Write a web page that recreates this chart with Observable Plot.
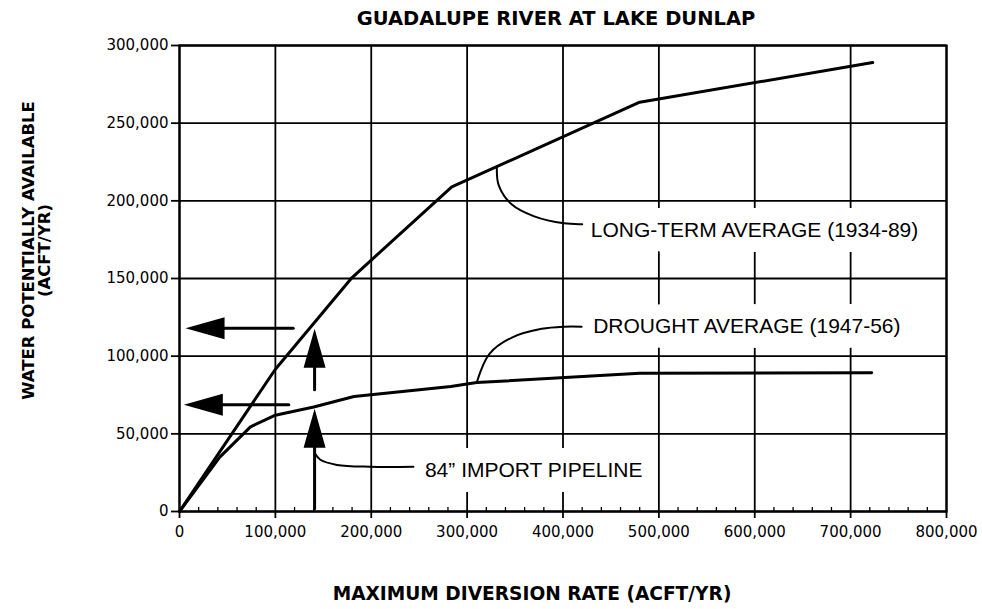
<!DOCTYPE html>
<html>
<head>
<meta charset="utf-8">
<script src="https://cdn.jsdelivr.net/npm/d3@7"></script>
<script src="https://cdn.jsdelivr.net/npm/@observablehq/plot@0.6"></script>
<style>
  html, body { margin: 0; padding: 0; background: #fff; }
</style>
</head>
<body>
<div id="chart"></div>
<script>
// ---- data ----
const longTermX = [0, 100000, 180000, 284000, 480000, 723000];
const longTermY = [0, 91600, 150600, 209000, 263500, 289000];

const droughtX = [0, 42000, 74000, 100000, 140000, 182000, 283000, 310000, 480000, 722000];
const droughtY = [0, 35000, 54500, 62000, 67300, 74000, 80500, 83000, 89000, 89300];

const xTicks = [0, 100000, 200000, 300000, 400000, 500000, 600000, 700000, 800000];
const yTicks = [0, 50000, 100000, 150000, 200000, 250000, 300000];
const minorXTicks = [20000, 40000, 60000, 80000, 120000, 140000, 160000, 180000, 220000, 240000, 260000, 280000,
  320000, 340000, 360000, 380000, 420000, 440000, 460000, 480000, 520000, 540000, 560000, 580000,
  620000, 640000, 660000, 680000, 720000, 740000, 760000, 780000];

// arrows: horizontal (pointing left) and vertical (pointing up)
const leftArrowY = [118000, 68700];
const leftArrowFrom = [118600, 114000];
const leftArrowTip = [6300, 4500];
const upArrowX = [140900, 140900];
const upArrowFrom = [78300, 1700];
const upArrowTip = [117600, 66100];

// annotation labels
const labelText = ["LONG-TERM AVERAGE (1934-89)", "DROUGHT AVERAGE (1947-56)", "84\u201D IMPORT PIPELINE"];
const labelX = [428900, 431500, 256000];
const labelY = [181000, 119000, 26500];

// leader lines
const leaderLongX = [331000, 333000, 346700, 370000, 401000, 420000];
const leaderLongY = [222000, 210000, 197600, 190000, 185500, 185000];
const leaderDroughtX = [310000, 323300, 346700, 377800, 401200, 419500];
const leaderDroughtY = [83000, 101500, 112000, 117600, 119000, 119000];
const leaderPipeX = [141000, 146900, 164200, 199000, 244000];
const leaderPipeY = [37600, 33300, 30000, 28800, 28800];

const titleText = "GUADALUPE RIVER AT LAKE DUNLAP";
const xLabelText = "MAXIMUM DIVERSION RATE (ACFT/YR)";
const yLabelText = "WATER POTENTIALLY AVAILABLE\n(ACFT/YR)";

// ---- tables built from the arrays ----
const longTerm = longTermX.map((x, i) => ({x, y: longTermY[i]}));
const drought = droughtX.map((x, i) => ({x, y: droughtY[i]}));
const leftArrows = leftArrowY.map((y, i) => ({y, from: leftArrowFrom[i], tip: leftArrowTip[i]}));
const upArrows = upArrowX.map((x, i) => ({x, from: upArrowFrom[i], tip: upArrowTip[i]}));
const labels = labelText.map((t, i) => ({t, x: labelX[i], y: labelY[i]}));
const leaders = [
  ...leaderLongX.map((x, i) => ({k: "long", x, y: leaderLongY[i]})),
  ...leaderDroughtX.map((x, i) => ({k: "drought", x, y: leaderDroughtY[i]})),
  ...leaderPipeX.map((x, i) => ({k: "pipe", x, y: leaderPipeY[i]}))
];

// filled arrowhead symbols (tip at the data point)
const headLeft = {draw(ctx) { ctx.moveTo(0, 0); ctx.lineTo(39, -11); ctx.lineTo(39, 11); ctx.closePath(); }};
const headUp = {draw(ctx) { ctx.moveTo(0, 0); ctx.lineTo(11, 39); ctx.lineTo(-11, 39); ctx.closePath(); }};

const tickFont = "'DejaVu Sans', sans-serif";
const boldFont = "'DejaVu Sans', sans-serif";
const noteFont = "'Liberation Sans', Arial, sans-serif";

const chart = Plot.plot({
  width: 982,
  height: 609,
  marginLeft: 179,
  marginRight: 36,
  marginTop: 45,
  marginBottom: 98,
  style: {fontFamily: tickFont, fontSize: "15px", color: "#000", background: "#fff"},
  x: {domain: [0, 800000]},
  y: {domain: [0, 300000]},
  marks: [
    Plot.gridX({ticks: xTicks, stroke: "#000", strokeOpacity: 1, strokeWidth: 1.8}),
    Plot.gridY({ticks: yTicks, stroke: "#000", strokeOpacity: 1, strokeWidth: 1.8}),
    Plot.frame({stroke: "#000", strokeWidth: 2.2}),
    Plot.axisX({ticks: xTicks, tickFormat: d3.format(","), tickSize: 7, tickPadding: 8, strokeWidth: 1.8, fontSize: 15, fontFamily: tickFont, fill: "#000", label: null}),
    Plot.axisX(minorXTicks, {tickSize: 4, dy: -4, tickFormat: () => "", strokeWidth: 1.3, label: null}),
    Plot.axisY({ticks: yTicks, tickFormat: d3.format(","), tickSize: 8, tickPadding: 3, strokeWidth: 1.8, fontSize: 15, fontFamily: tickFont, fill: "#000", label: null}),
    // annotation labels with white boxes (halo)
    Plot.text(labels, {x: "x", y: "y", text: "t", textAnchor: "start", lineAnchor: "middle",
      fontFamily: noteFont, fontSize: 21, fill: "#000", stroke: "#fff", strokeWidth: 30}),
    // curves
    Plot.line(longTerm, {x: "x", y: "y", stroke: "#000", strokeWidth: 3}),
    Plot.line(drought, {x: "x", y: "y", stroke: "#000", strokeWidth: 3}),
    // leader lines
    Plot.line(leaders, {x: "x", y: "y", z: "k", stroke: "#000", strokeWidth: 2, curve: "catmull-rom"}),
    // arrows
    Plot.arrow(leftArrows, {x1: "from", x2: "tip", y1: "y", y2: "y", headLength: 0, insetEnd: 30, stroke: "#000", strokeWidth: 3}),
    Plot.dot(leftArrows, {x: "tip", y: "y", symbol: headLeft, r: 5, fill: "#000", stroke: "none"}),
    Plot.arrow(upArrows, {x1: "x", x2: "x", y1: "from", y2: "tip", headLength: 0, insetEnd: 30, stroke: "#000", strokeWidth: 3}),
    Plot.dot(upArrows, {x: "x", y: "tip", symbol: headUp, r: 5, fill: "#000", stroke: "none"}),
    // titles
    Plot.text([titleText], {text: d => d, frameAnchor: "top", textAnchor: "middle", lineAnchor: "middle", dy: -27, dx: -7,
      fontFamily: boldFont, fontWeight: "bold", fontSize: 19.5, fill: "#000"}),
    Plot.text([xLabelText], {text: d => d, frameAnchor: "bottom", textAnchor: "middle", lineAnchor: "middle", dy: 83, dx: -31,
      fontFamily: boldFont, fontWeight: "bold", fontSize: 18.6, fill: "#000"}),
    Plot.text([yLabelText], {text: d => d, frameAnchor: "left", textAnchor: "middle", lineAnchor: "middle", rotate: -90, dx: -143, dy: -28,
      lineHeight: 1, fontFamily: boldFont, fontWeight: "bold", fontSize: 16.5, fill: "#000"})
  ]
});
document.getElementById("chart").appendChild(chart);
</script>
</body>
</html>
